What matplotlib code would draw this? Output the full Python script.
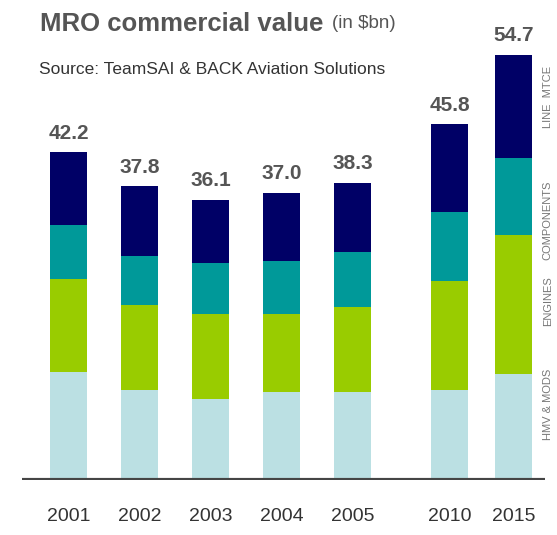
import matplotlib
matplotlib.use("Agg")
import numpy as np
import matplotlib.pyplot as plt

# MRO commercial value, $bn, by segment
years = ["2001", "2002", "2003", "2004", "2005", "2010", "2015"]
hmv_mods = [13.9, 11.6, 10.4, 11.3, 11.3, 11.6, 13.6]
engines = [12.0, 10.9, 11.0, 10.1, 11.0, 14.0, 18.0]
components = [6.9, 6.4, 6.5, 6.8, 7.1, 8.9, 9.9]
line_mtce = [9.4, 8.9, 8.2, 8.8, 8.9, 11.3, 13.2]
totals = [42.2, 37.8, 36.1, 37.0, 38.3, 45.8, 54.7]
segment_names = ["HMV & MODS", "ENGINES", "COMPONENTS", "LINE  MTCE"]

# layout (gap before 2010 as in the original)
xpos = np.array([0, 1, 2, 3, 4, 5.37, 6.27])
label_y = [9.7, 23.0, 33.5, 49.3]  # where the side labels sit (data units)
colors = ["#bbe0e3", "#99cc00", "#009999", "#000066"]
text_grey = "#555555"

plt.rcParams["font.family"] = ["Liberation Sans", "DejaVu Sans"]

fig = plt.figure(figsize=(5.57, 5.35), dpi=100)
ax = fig.add_axes([22 / 557, 55 / 535, (545 - 22) / 557, 466 / 535])

series = [hmv_mods, engines, components, line_mtce]
bottom = np.zeros(len(years))
for vals, col in zip(series, colors):
    ax.bar(xpos, vals, width=0.52, bottom=bottom, color=col, edgecolor="none")
    bottom += np.array(vals)

for x, top, tot in zip(xpos, bottom, totals):
    ax.annotate(f"{tot:.1f}", (x, top), xytext=(0, 7), textcoords="offset points",
                ha="center", va="bottom", fontsize=15, fontweight="bold", color=text_grey)

# segment names next to the last bar
for y, name in zip(label_y, segment_names):
    ax.text(xpos[-1] + 0.48, y, name, rotation=90, ha="center", va="center",
            fontsize=8, color="#777777", clip_on=False)

ax.axhline(0, color="#454545", lw=3, zorder=5)
ax.set_xlim(-0.66, 6.71)
ax.set_ylim(0, 60)
ax.set_xticks(xpos)
ax.set_xticklabels(years, fontsize=14, color="#333333")
ax.tick_params(axis="x", length=0, pad=20)
ax.set_yticks([])
for s in ax.spines.values():
    s.set_visible(False)

fig.text(40 / 557, 1 - 24 / 535, "MRO commercial value", fontsize=18.5, fontweight="bold",
         color=text_grey, va="center")
fig.text(332 / 557, 1 - 23 / 535, "(in $bn)", fontsize=13.5, color=text_grey, va="center")
fig.text(39 / 557, 1 - 69 / 535, "Source: TeamSAI & BACK Aviation Solutions", fontsize=12.5,
         color="#333333", va="center")

fig.savefig("out.png", dpi=100)
